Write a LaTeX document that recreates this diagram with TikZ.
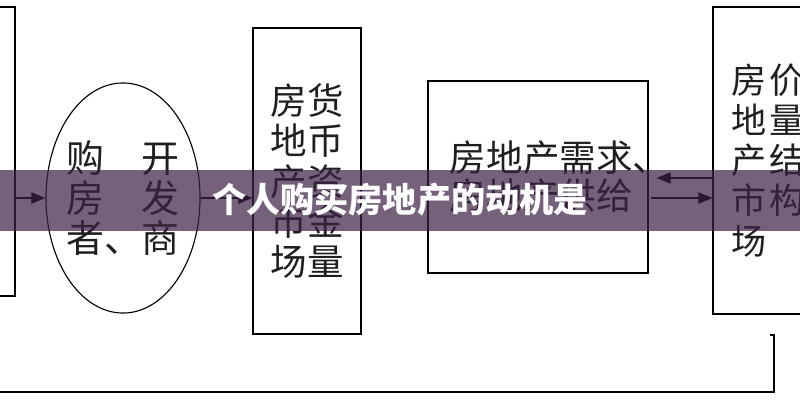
\documentclass[tikz,border=0pt]{standalone}
\usepackage{fontspec}
\usepackage{tikz}
\usetikzlibrary{arrows.meta,positioning,shapes.geometric}
\newfontfamily\cjk{Noto Sans CJK SC}
\definecolor{bannerc}{RGB}{60,33,68}

\begin{document}
\begin{tikzpicture}[x=0.025cm, y=-0.025cm,
    box/.style={rectangle, draw, line width=0.8pt, inner sep=0pt},
    word/.style={font=\cjk\fontsize{26}{28.5}\selectfont, align=center, text=black!88},
    arrow/.style={-{Triangle[length=10pt,width=8pt]}, line width=0.8pt}
]
    \useasboundingbox (0,0) rectangle (800,400);
    \clip (0,0) rectangle (800,400);

    % Left box (cut off)
    \node[box, minimum width=2cm, minimum height=7.225cm] (src) at (-25,151.5) {};

    % Buyers and developers
    \node[ellipse, draw, line width=0.8pt, inner xsep=-4pt, inner ysep=0pt, minimum width=3.85cm, minimum height=5.75cm, align=center,
          font=\cjk\fontsize{27}{28.5}\selectfont, text=black!88] (buyer) at (123,198)
          {购\quad 开\\房\quad 发\\者、商};

    % Money supply
    \node[box, word, minimum width=2.7cm, minimum height=7.65cm] (money) at (307,181)
          {房货\\地币\\产资\\市金\\场量};

    % Demand and supply
    \node[box, word, align=left, minimum width=5.5cm, minimum height=4.8cm, inner xsep=0.55cm, text width=4.4cm,
          font=\cjk\fontsize{26}{27}\selectfont] (demand) at (538,177)
          {房地产需求、\\房地产供给};

    % Market structure (cut off)
    \node[box, word, align=left, minimum width=4.3cm, minimum height=7.675cm, inner xsep=0.46cm, text width=3.38cm,
          font=\cjk\fontsize{25}{28.5}\selectfont] (market) at (799,160.5)
          {房\hspace{2pt}价\\地\hspace{2pt}量\\产\hspace{2pt}结\\市\hspace{2pt}构\\场};

    % Arrows
    \draw[arrow] (src.east |- buyer) -- (buyer);
    \draw[arrow] (buyer.east) -- (buyer.east -| money.west);
    \draw[arrow, shorten >=5.7pt] (market.west |- 0,178) -- (demand.east |- 0,178);
    \draw[arrow, shorten <=2pt] (demand.east |- 0,198) -- (market.west |- 0,198);

    % Feedback line
    \coordinate (fbtop) at (774,335);
    \coordinate (fbend) at (0,392);
    \draw[line width=0.8pt] (fbtop) ++(-4,0) -- (fbtop) |- (fbend);

    % Banner
    \fill[bannerc, opacity=.71] (0,170) rectangle (800,231);
    \node[font=\cjk\bfseries\fontsize{24.3}{24.3}\selectfont, text=white] (title) at (400,200) {个人购买房地产的动机是};

\end{tikzpicture}
\end{document}
